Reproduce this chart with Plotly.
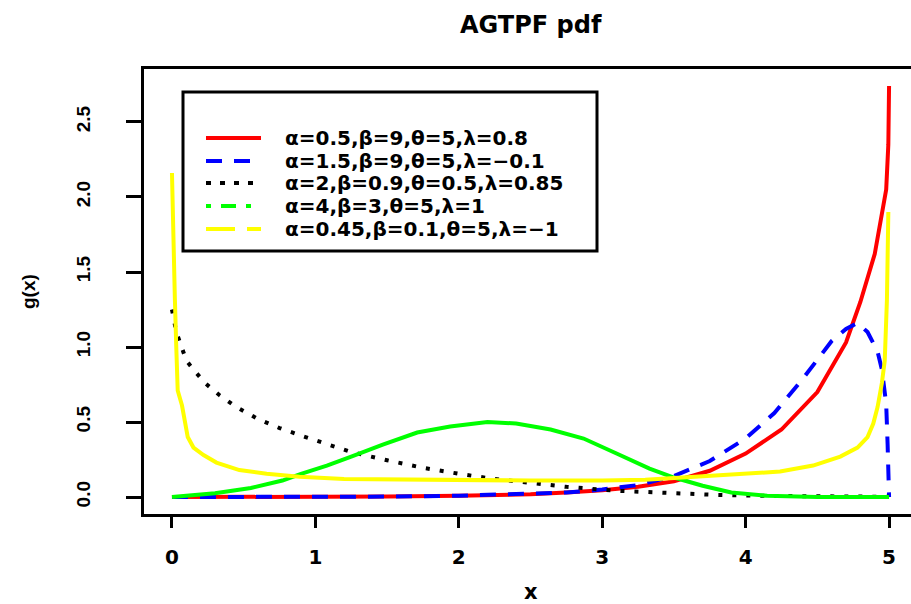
import plotly.graph_objects as go

# ---- data ----
red_x = [0, 0.5, 1.0, 1.5, 2.0, 2.5, 2.75, 3.0, 3.25, 3.5, 3.75, 4.0, 4.25, 4.5, 4.7, 4.8, 4.9, 4.95, 4.98, 4.995, 5.0]
red_y = [0, 0, 0.001, 0.003, 0.008, 0.018, 0.03, 0.045, 0.068, 0.105, 0.175, 0.29, 0.45, 0.70, 1.03, 1.30, 1.62, 1.87, 2.05, 2.35, 2.74]

blue_x = [0, 0.5, 1.0, 1.5, 2.0, 2.5, 2.75, 3.0, 3.25, 3.5, 3.75, 4.0, 4.2, 4.4, 4.6, 4.7, 4.78, 4.85, 4.92, 4.95, 4.98, 4.99, 5.0]
blue_y = [0, 0, 0.001, 0.003, 0.009, 0.02, 0.03, 0.05, 0.08, 0.14, 0.24, 0.39, 0.56, 0.79, 1.04, 1.12, 1.16, 1.10, 0.97, 0.85, 0.62, 0.35, 0.0]

black_x = [0, 0.01, 0.03, 0.06, 0.1, 0.15, 0.23, 0.33, 0.45, 0.6, 0.75, 0.9, 1.05, 1.25, 1.5, 1.75, 2.0, 2.25, 2.5, 2.75, 3.1, 3.45, 3.8, 4.2, 4.6, 5.0]
black_y = [1.25, 1.2, 1.1, 1.02, 0.91, 0.85, 0.76, 0.68, 0.60, 0.52, 0.46, 0.41, 0.36, 0.30, 0.245, 0.195, 0.155, 0.12, 0.095, 0.068, 0.042, 0.025, 0.014, 0.007, 0.004, 0.002]

green_x = [0, 0.3, 0.55, 0.77, 0.9, 1.08, 1.25, 1.47, 1.71, 1.94, 2.2, 2.4, 2.64, 2.87, 3.1, 3.33, 3.5, 3.7, 3.9, 4.15, 4.5, 5.0]
green_y = [0, 0.025, 0.06, 0.11, 0.155, 0.21, 0.27, 0.35, 0.43, 0.47, 0.50, 0.49, 0.45, 0.39, 0.29, 0.19, 0.13, 0.075, 0.03, 0.008, 0.001, 0]

yellow_x = [0.0, 0.005, 0.02, 0.03, 0.04, 0.07, 0.09, 0.11, 0.15, 0.22, 0.31, 0.47, 0.66, 0.89, 1.2, 1.6, 2.0, 2.5, 3.0, 3.3, 3.56, 3.9, 4.24, 4.47, 4.66, 4.78, 4.85, 4.89, 4.92, 4.95, 4.97, 4.985, 4.995]
yellow_y = [2.16, 1.9, 1.33, 1.0, 0.71, 0.61, 0.49, 0.40, 0.33, 0.28, 0.23, 0.18, 0.155, 0.135, 0.12, 0.115, 0.11, 0.11, 0.11, 0.115, 0.13, 0.15, 0.17, 0.21, 0.27, 0.33, 0.40, 0.49, 0.60, 0.76, 0.91, 1.31, 1.90]

labels = [
    "α=0.5,β=9,θ=5,λ=0.8",
    "α=1.5,β=9,θ=5,λ=−0.1",
    "α=2,β=0.9,θ=0.5,λ=0.85",
    "α=4,β=3,θ=5,λ=1",
    "α=0.45,β=0.1,θ=5,λ=−1",
]
colors = ["#ff0000", "#0000ff", "#000000", "#00ff00", "#ffff00"]
plot_dash = ["solid", "16px,12px", "4px,10px", "solid", "solid"]
legend_dash = ["solid", "16px,12px", "5px,9px", "5px,10px,15px,10px", "29px,12px"]

x_ticks = [0, 1, 2, 3, 4, 5]
y_ticks = [0.0, 0.5, 1.0, 1.5, 2.0, 2.5]
y_tick_text = ["0.0", "0.5", "1.0", "1.5", "2.0", "2.5"]

series = [(red_x, red_y), (blue_x, blue_y), (black_x, black_y), (green_x, green_y), (yellow_x, yellow_y)]

fig = go.Figure()
for (xs, ys), c, d, name in zip(series, colors, plot_dash, labels):
    fig.add_trace(go.Scatter(x=xs, y=ys, mode="lines", name=name,
                             line=dict(color=c, width=4, dash=d), showlegend=False))

HF = "DejaVu Sans"
VF = "Liberation Sans"

# pixel geometry helpers (plot area 144..911 x 69..514)
L, R, T, B = 144, 911, 69, 514
def px(x):
    return (x - L) / (R - L)
def py(y):
    return (B - y) / (B - T)

shapes = []
annotations = []
# legend box
shapes.append(dict(type="rect", xref="paper", yref="paper",
                   x0=px(183), x1=px(597), y0=py(251), y1=py(92),
                   line=dict(color="black", width=3), fillcolor="white", layer="above"))
rows = [138, 161, 183, 206, 229]
for r, c, d, name in zip(rows, colors, legend_dash, labels):
    shapes.append(dict(type="line", xref="paper", yref="paper",
                       x0=px(206), x1=px(261), y0=py(r), y1=py(r),
                       line=dict(color=c, width=4, dash=d), layer="above"))
    annotations.append(dict(text="<b>%s</b>" % name, xref="paper", yref="paper",
                            x=px(283), y=py(r), xanchor="left", yanchor="middle",
                            showarrow=False, font=dict(family=HF, size=20, color="black")))

# title and axis titles
annotations.append(dict(text="<b>AGTPF pdf</b>", xref="paper", yref="paper",
                        x=px(531), y=py(25), xanchor="center", yanchor="middle",
                        showarrow=False, font=dict(family=HF, size=24, color="black")))
annotations.append(dict(text="<b>x</b>", xref="paper", yref="paper",
                        x=px(531), y=py(592), xanchor="center", yanchor="middle",
                        showarrow=False, font=dict(family=HF, size=21, color="black")))
annotations.append(dict(text="<b>g(x)</b>", xref="paper", yref="paper",
                        x=px(28), y=py(291), xanchor="center", yanchor="middle", textangle=-90,
                        showarrow=False, font=dict(family=VF, size=19, color="black")))

fig.update_layout(
    width=911, height=604,
    margin=dict(l=L, r=911 - R, t=T, b=604 - B),
    paper_bgcolor="white", plot_bgcolor="white",
    showlegend=False,
    shapes=shapes, annotations=annotations,
    xaxis=dict(range=[-0.195, 5.153], tickvals=x_ticks, ticktext=["<b>%d</b>" % v for v in x_ticks],
               showgrid=False, zeroline=False, showline=True, linecolor="black", linewidth=3,
               mirror=True, ticks="outside", ticklen=11, tickwidth=3, tickcolor="black",
               ticklabelstandoff=12,
               tickfont=dict(family=HF, size=20, color="black")),
    yaxis=dict(range=[-0.113, 2.853], tickvals=y_ticks, ticktext=["<b>%s</b>" % t for t in y_tick_text],
               showgrid=False, zeroline=False, showline=True, linecolor="black", linewidth=3,
               ticks="outside", ticklen=15, tickwidth=3, tickcolor="black", tickangle=-90,
               ticklabelstandoff=28,
               tickfont=dict(family=VF, size=19, color="black")),
)

fig.write_html("out.html", config={"displayModeBar": False},
               post_script="document.body.style.margin='0px';document.body.style.overflow='hidden';")
